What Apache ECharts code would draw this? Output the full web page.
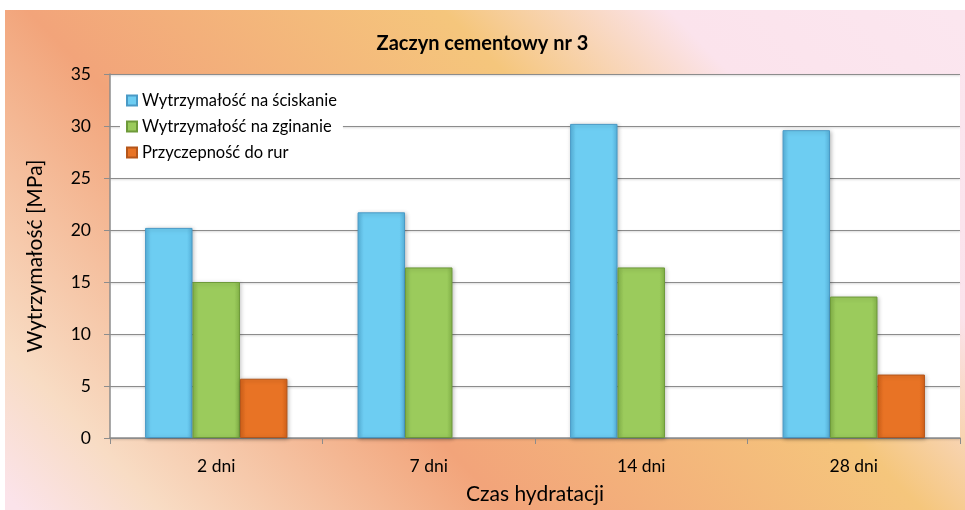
<!DOCTYPE html>
<html><head><meta charset="utf-8">
<script src="https://cdn.jsdelivr.net/npm/echarts@6/dist/echarts.min.js"></script>
<style>html,body{margin:0;padding:0;background:#fff}#c{width:965px;height:510px}</style>
</head><body><div id="c"></div>
<script>
const categories = ['2 dni', '7 dni', '14 dni', '28 dni'];
const seriesNames = ['Wytrzymałość na ściskanie', 'Wytrzymałość na zginanie', 'Przyczepność do rur'];
const compressive = [20.2, 21.7, 30.2, 29.6];
const bending = [15.0, 16.4, 16.4, 13.6];
const adhesion = [5.7, null, null, 6.1];
const yTicks = {min: 0, max: 35, interval: 5};

const chart = echarts.init(document.getElementById('c'));
const FONT = 'Lato, "Open Sans", sans-serif';
function barStyle(c1, c2, border) {
  return {
    color: new echarts.graphic.LinearGradient(0, 0, 1, 0, [
      {offset: 0, color: c2}, {offset: 0.12, color: c1}, {offset: 0.88, color: c1}, {offset: 1, color: c2}
    ]),
    borderColor: border, borderWidth: 1,
    shadowColor: 'rgba(0,0,0,0.25)', shadowBlur: 4, shadowOffsetX: 1, shadowOffsetY: 1
  };
}
const bg = new echarts.graphic.LinearGradient(10, 500, 746, -205, [
  {offset: 0, color: '#FBE3EA'},
  {offset: 0.1, color: '#F8DCC4'},
  {offset: 0.345, color: '#F2A47A'},
  {offset: 0.64, color: '#F5C67C'},
  {offset: 0.8, color: '#FBE3EC'},
  {offset: 1, color: '#FBE6EF'}
], true);
chart.setOption({
  animation: false,
  graphic: [{type: 'rect', z: -10, shape: {x: 5, y: 10, width: 960, height: 500}, style: {fill: bg}}],
  title: {text: 'Zaczyn cementowy nr 3', left: 'center', top: 29,
    textStyle: {fontFamily: FONT, fontWeight: 'bold', fontSize: 20, color: '#000'}},
  legend: {
    orient: 'vertical', left: 120, top: 88, itemWidth: 10, itemHeight: 10, itemGap: 9,
    backgroundColor: '#fff', padding: [4, 6, 4, 6],
    textStyle: {fontFamily: FONT, fontSize: 16.5, color: '#000'},
    data: seriesNames.map(n => ({name: n, icon: 'rect'}))
  },
  grid: {left: 110, right: 5, top: 74, bottom: 70, show: true, backgroundColor: '#fff', borderWidth: 0},
  xAxis: {
    type: 'category', data: categories, name: 'Czas hydratacji', nameLocation: 'middle', nameGap: 46,
    nameTextStyle: {fontFamily: FONT, fontSize: 21, color: '#000'},
    axisLine: {lineStyle: {color: '#8c8c8c', width: 1.5}},
    axisTick: {show: true, length: 6, lineStyle: {color: '#8c8c8c'}},
    axisLabel: {fontFamily: FONT, fontSize: 17.5, color: '#000', margin: 19}
  },
  yAxis: {
    type: 'value', min: yTicks.min, max: yTicks.max, interval: yTicks.interval,
    name: 'Wytrzymałość [MPa]', nameLocation: 'middle', nameGap: 64,
    nameTextStyle: {fontFamily: FONT, fontSize: 21, color: '#000'},
    axisLine: {show: true, lineStyle: {color: '#8c8c8c', width: 1.5}},
    axisTick: {show: true, length: 6, lineStyle: {color: '#8c8c8c'}},
    axisLabel: {fontFamily: FONT, fontSize: 17.5, color: '#000', margin: 19},
    splitLine: {lineStyle: {color: '#8c8c8c', width: 1.2, shadowColor: 'rgba(0,0,0,0.2)', shadowBlur: 2, shadowOffsetY: 1}}
  },
  series: [
    {name: seriesNames[0], type: 'bar', data: compressive, barGap: '0%', barCategoryGap: '33%',
     itemStyle: barStyle('#6DCDF2', '#58B4DE', '#4A9AC6')},
    {name: seriesNames[1], type: 'bar', data: bending, barGap: '0%', barCategoryGap: '33%',
     itemStyle: barStyle('#9BCB5C', '#86B64A', '#6E9A3A')},
    {name: seriesNames[2], type: 'bar', data: adhesion, barGap: '0%', barCategoryGap: '33%',
     itemStyle: barStyle('#E87325', '#D6631A', '#B5561A')}
  ]
});
</script></body></html>
